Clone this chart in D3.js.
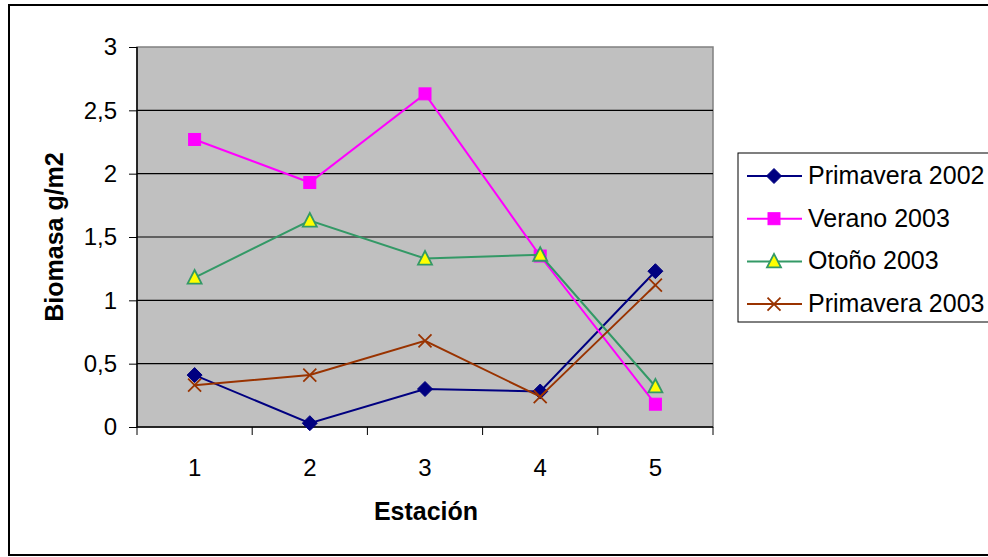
<!DOCTYPE html>
<html><head><meta charset="utf-8">
<script src="https://cdn.jsdelivr.net/npm/d3@7"></script>
<style>body{margin:0;background:#fff}svg{display:block}text{font-family:"Liberation Sans",Arial,sans-serif}</style>
</head><body>
<svg id="c" width="988" height="557"></svg>
<script>
const categories = [1, 2, 3, 4, 5];
const yTicks = [0, 0.5, 1, 1.5, 2, 2.5, 3];
const seriesNames = ["Primavera 2002", "Verano 2003", "Otoño 2003", "Primavera 2003"];
const primavera2002 = [0.41, 0.03, 0.30, 0.28, 1.23];
const verano2003 = [2.27, 1.93, 2.63, 1.35, 0.18];
const otono2003 = [1.18, 1.63, 1.33, 1.36, 0.32];
const primavera2003 = [0.33, 0.41, 0.68, 0.24, 1.12];

const seriesValues = [primavera2002, verano2003, otono2003, primavera2003];
const colors = ["#000080", "#FF00FF", "#339966", "#993300"];
const markers = ["diamond", "square", "triangle", "x"];
const FS = 24;

const svg = d3.select("#c");
svg.append("rect").attr("x", 9).attr("y", 5).attr("width", 1000).attr("height", 550)
  .attr("fill", "#fff").attr("stroke", "#000").attr("stroke-width", 2);

const L = 137, R = 713, T = 47, B = 427;
const x = d3.scaleBand().domain(categories).range([L, R]);
const y = d3.scaleLinear().domain([0, 3]).range([B, T]);

svg.append("rect").attr("x", L).attr("y", T).attr("width", R - L).attr("height", B - T)
  .attr("fill", "#C0C0C0").attr("stroke", "#808080").attr("stroke-width", 1.5);

svg.append("g").selectAll("line").data(yTicks.filter(d => d > 0 && d < 3)).join("line")
  .attr("x1", L).attr("x2", R).attr("y1", d => y(d)).attr("y2", d => y(d))
  .attr("stroke", "#000").attr("stroke-width", 1.2);

const yAxis = d3.axisLeft(y).tickValues(yTicks).tickSize(8).tickPadding(12)
  .tickFormat(d => String(d).replace(".", ","));
const gy = svg.append("g").attr("transform", `translate(${L},0)`).call(yAxis);
gy.select(".domain").attr("stroke", "#000").attr("stroke-width", 1.5).attr("d", `M0,${T}V${B}`);
gy.selectAll(".tick line").attr("stroke", "#000");
gy.selectAll(".tick text").attr("font-size", FS).attr("fill", "#000").attr("font-family", "Liberation Sans, Arial, sans-serif");

const xAxis = d3.axisBottom(x).tickSize(0).tickPadding(32);
const gx = svg.append("g").attr("transform", `translate(0,${B})`).call(xAxis);
gx.select(".domain").attr("stroke", "#000").attr("stroke-width", 1.5).attr("d", `M${L},0H${R}`);
gx.selectAll(".tick text").attr("font-size", FS).attr("fill", "#000").attr("font-family", "Liberation Sans, Arial, sans-serif");
const bounds = categories.map(c => x(c)).concat([R]);
svg.append("g").selectAll("line").data(bounds).join("line")
  .attr("x1", d => d).attr("x2", d => d).attr("y1", B).attr("y2", B + 8)
  .attr("stroke", "#000").attr("stroke-width", 1);

svg.append("text").attr("x", 426).attr("y", 520).attr("text-anchor", "middle")
  .attr("font-size", FS + 1).attr("font-weight", "bold").text("Estación");
svg.append("text").attr("transform", "translate(63,237) rotate(-90)").attr("text-anchor", "middle")
  .attr("font-size", FS + 1).attr("font-weight", "bold").text("Biomasa g/m2");

function drawMarker(g, type, cx, cy, color) {
  if (type === "diamond") {
    g.append("path").attr("d", `M${cx},${cy-7.5}L${cx+7.5},${cy}L${cx},${cy+7.5}L${cx-7.5},${cy}Z`)
      .attr("fill", color).attr("stroke", color);
  } else if (type === "square") {
    g.append("rect").attr("x", cx - 6).attr("y", cy - 6).attr("width", 12).attr("height", 12)
      .attr("fill", color).attr("stroke", color);
  } else if (type === "triangle") {
    g.append("path").attr("d", `M${cx},${cy-7.5}L${cx+7},${cy+6}L${cx-7},${cy+6}Z`)
      .attr("fill", "#FFFF00").attr("stroke", color).attr("stroke-width", 1.8);
  } else {
    g.append("path").attr("d", `M${cx-6.5},${cy-6.5}L${cx+6.5},${cy+6.5}M${cx+6.5},${cy-6.5}L${cx-6.5},${cy+6.5}`)
      .attr("stroke", color).attr("stroke-width", 1.8).attr("fill", "none");
  }
}

const cx = c => x(c) + x.bandwidth() / 2;
const line = d3.line().x((d, i) => cx(categories[i])).y(d => y(d));
seriesValues.forEach((vals, s) => {
  const g = svg.append("g");
  g.append("path").datum(vals).attr("d", line).attr("fill", "none")
    .attr("stroke", colors[s]).attr("stroke-width", 2);
  vals.forEach((v, i) => drawMarker(g, markers[s], cx(categories[i]), y(v), colors[s]));
});

const lg = svg.append("g");
lg.append("rect").attr("x", 738).attr("y", 153).attr("width", 300).attr("height", 169)
  .attr("fill", "#fff").attr("stroke", "#000").attr("stroke-width", 1);
seriesNames.forEach((n, s) => {
  const yy = 176 + s * 42.7;
  lg.append("line").attr("x1", 747).attr("x2", 802).attr("y1", yy).attr("y2", yy)
    .attr("stroke", colors[s]).attr("stroke-width", 2);
  drawMarker(lg, markers[s], 774, yy, colors[s]);
  lg.append("text").attr("x", 808).attr("y", yy + 8).attr("font-size", FS + 1).text(n);
});
</script>
</body></html>
